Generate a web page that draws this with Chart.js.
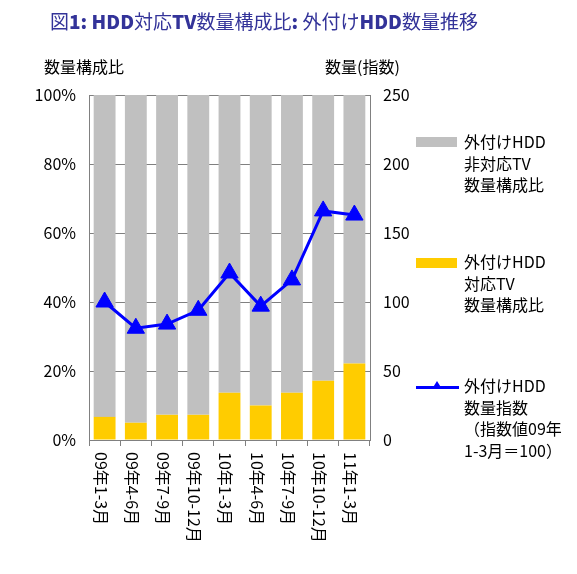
<!DOCTYPE html>
<html>
<head>
<meta charset="utf-8">
<script src="https://cdn.jsdelivr.net/npm/chart.js@4/dist/chart.umd.min.js"></script>
<style>
  html, body { margin: 0; padding: 0; background: #fff; }
  #wrap { position: relative; width: 577px; height: 574px; overflow: hidden; font-family: "Noto Sans CJK JP", "Noto Sans", sans-serif; }
  #c { position: absolute; left: 0; top: 0; }
  .t { position: absolute; white-space: nowrap; color: #000; }
  #title { left: 50px; top: 8px; font-size: 19px; color: #333399; line-height: 26px; }
  #title b { font-weight: 900; }
  .axt { font-size: 16px; line-height: 18px; top: 57px; }
  .lg { font-size: 16px; line-height: 21.5px; left: 464px; }
  .sw { position: absolute; left: 416px; width: 41px; height: 10px; }
</style>
</head>
<body>
<div id="wrap">
  <canvas id="c" width="577" height="574"></canvas>
  <div id="title" class="t">図<b>1: HDD</b>対応<b>TV</b>数量構成比<b>: </b>外付け<b>HDD</b>数量推移</div>
  <div class="t axt" style="left:44px;">数量構成比</div>
  <div class="t axt" style="left:325px;">数量(指数)</div>

  <div class="sw" style="top:137px;background:#C0C0C0;"></div>
  <div class="t lg" style="top:131px;">外付けHDD<br>非対応TV<br>数量構成比</div>

  <div class="sw" style="top:258px;background:#FFCC00;"></div>
  <div class="t lg" style="top:251px;">外付けHDD<br>対応TV<br>数量構成比</div>

  <div style="position:absolute;left:416px;top:386px;width:43px;height:3px;background:#0000FF;"></div>
  <div style="position:absolute;left:432px;top:381px;width:0;height:0;border-left:5px solid transparent;border-right:5px solid transparent;border-bottom:8px solid #0000FF;"></div>
  <div class="t lg" style="top:375px;">外付けHDD<br>数量指数<br>（指数値09年<br>1-3月＝100）</div>
</div>
<script>
const categories = ['09年1-3月','09年4-6月','09年7-9月','09年10-12月','10年1-3月','10年4-6月','10年7-9月','10年10-12月','11年1-3月'];
const supportedShare = [6.7, 5.0, 7.3, 7.3, 13.7, 10.0, 13.7, 17.2, 22.2];
const unsupportedShare = [93.3, 95.0, 92.7, 92.7, 86.3, 90.0, 86.3, 82.8, 77.8];
const hddIndex = [100, 81, 84, 94, 121, 97, 116, 166, 163];
const leftTicks = [0, 20, 40, 60, 80, 100];
const rightTicks = [0, 50, 100, 150, 200, 250];

const FONT = '"Noto Sans CJK JP", "Noto Sans", sans-serif';

const xLabelPlugin = {
  id: 'xLabels',
  afterDraw(chart) {
    const xs = chart.scales.x;
    const ctx = chart.ctx;
    ctx.save();
    ctx.font = '16px ' + FONT;
    ctx.fillStyle = '#000';
    ctx.textAlign = 'left';
    ctx.textBaseline = 'middle';
    chart.data.labels.forEach((lab, i) => {
      const x = xs.getPixelForValue(i) - 4;
      const y = chart.chartArea.bottom + 12;
      ctx.save();
      ctx.translate(x, y);
      ctx.rotate(Math.PI / 2);
      ctx.fillText(lab, 0, 0);
      ctx.restore();
    });
    ctx.restore();
  }
};

new Chart(document.getElementById('c'), {
  type: 'bar',
  data: {
    labels: categories,
    datasets: [
      {
        type: 'line',
        label: '外付けHDD数量指数',
        data: hddIndex,
        yAxisID: 'y1',
        borderColor: '#0000FF',
        backgroundColor: '#0000FF',
        borderWidth: 3,
        pointStyle: 'triangle',
        pointRadius: 10,
        pointBorderWidth: 1,
        tension: 0,
        order: 0
      },
      {
        label: '外付けHDD対応TV数量構成比',
        data: supportedShare,
        backgroundColor: '#FFCC00',
        yAxisID: 'y',
        stack: 's',
        order: 1,
        barPercentage: 0.7,
        categoryPercentage: 1.0
      },
      {
        label: '外付けHDD非対応TV数量構成比',
        data: unsupportedShare,
        backgroundColor: '#C0C0C0',
        yAxisID: 'y',
        stack: 's',
        order: 1,
        barPercentage: 0.7,
        categoryPercentage: 1.0
      }
    ]
  },
  options: {
    responsive: false,
    animation: false,
    layout: { padding: { top: 95, left: 0, right: 0, bottom: 0 } },
    plugins: { legend: { display: false }, title: { display: false }, tooltip: { enabled: false } },
    scales: {
      x: {
        stacked: true,
        offset: true,
        grid: { display: true, drawOnChartArea: false, offset: true, color: '#808080', tickLength: 6, lineWidth: 1 },
        border: { color: '#808080', width: 1 },
        ticks: { display: false },
        afterFit(s) { s.height = 134; }
      },
      y: {
        position: 'left',
        stacked: true,
        min: 0, max: 100,
        afterBuildTicks(s) { s.ticks = leftTicks.map(v => ({ value: v })); },
        ticks: { callback: v => v + '%', color: '#000', font: { size: 16, family: FONT }, padding: 13 },
        grid: { color: '#808080', drawTicks: false, lineWidth: 1 },
        border: { color: '#808080', width: 1 },
        afterFit(s) { s.width = 89; }
      },
      y1: {
        position: 'right',
        min: 0, max: 250,
        afterBuildTicks(s) { s.ticks = rightTicks.map(v => ({ value: v })); },
        ticks: { color: '#000', font: { size: 16, family: FONT }, padding: 13 },
        grid: { drawOnChartArea: false, drawTicks: false },
        border: { color: '#808080', width: 1 },
        afterFit(s) { s.width = 207; }
      }
    }
  },
  plugins: [xLabelPlugin]
});
</script>
</body>
</html>
